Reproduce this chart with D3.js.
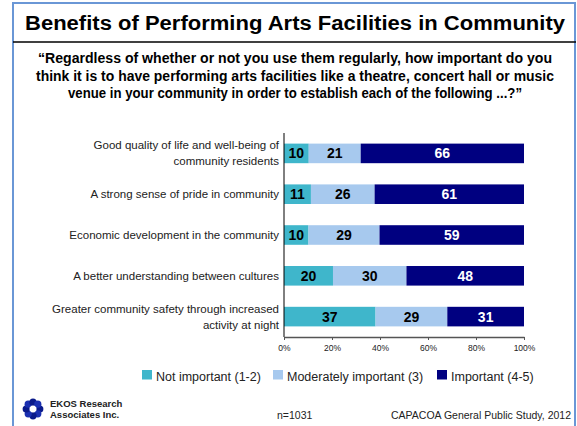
<!DOCTYPE html>
<html><head><meta charset="utf-8">
<script src="https://cdn.jsdelivr.net/npm/d3@7"></script>
<style>body{margin:0;background:#fff}svg{display:block;font-family:"Liberation Sans",Arial,sans-serif}</style>
</head><body>
<script>
const categories = [
  ["Good quality of life and well-being of","community residents"],
  ["A strong sense of pride in community"],
  ["Economic development in the community"],
  ["A better understanding between cultures"],
  ["Greater community safety through increased","activity at night"]
];
const seriesNames = ["Not important (1-2)","Moderately important (3)","Important (4-5)"];
const notImportant = [10,11,10,20,37];
const moderately = [21,26,29,30,29];
const important = [66,61,59,48,31];
const tickValues = [0,20,40,60,80,100];
const colors = ["#3FB6CB","#A7C9EE","#000080"];
const labelColors = ["#000","#000","#fff"];

const W=577,H=426;
const svg=d3.select("body").append("svg").attr("width",W).attr("height",H);
// frame
svg.append("rect").attr("x",13).attr("y",3).attr("width",562).attr("height",430)
  .attr("fill","#fff").attr("stroke","#6A97D6").attr("stroke-width",2);
svg.append("line").attr("x1",13).attr("x2",576).attr("y1",42).attr("y2",42).attr("stroke","#000").attr("stroke-width",1.5);
svg.append("text").attr("x",295).attr("y",30).attr("text-anchor","middle")
  .attr("font-size",20).attr("font-weight","bold").attr("textLength",540).attr("lengthAdjust","spacingAndGlyphs")
  .text("Benefits of Performing Arts Facilities in Community");
const sub=["\u201cRegardless of whether or not you use them regularly, how important do you",
"think it is to have performing arts facilities like a theatre, concert hall or music",
"venue in your community in order to establish each of the following ...?\u201d"];
const subW=[514,518,454];
sub.forEach((s,i)=>svg.append("text").attr("x",295).attr("y",63+i*17.5).attr("text-anchor","middle")
  .attr("font-size",14.5).attr("font-weight","bold").attr("textLength",subW[i]).attr("lengthAdjust","spacingAndGlyphs").text(s));

const x=d3.scaleLinear().domain([0,100]).range([284,524]);
const y=d3.scaleBand().domain(d3.range(categories.length)).range([133,337]).paddingInner(0.52).paddingOuter(0.26);

const data=categories.map((c,i)=>[notImportant[i],moderately[i],important[i]]);
const stack=d3.stack().keys([0,1,2]).offset(d3.stackOffsetExpand)(data);
stack.forEach((layer,k)=>{
  const g=svg.append("g");
  g.selectAll("rect").data(layer).join("rect")
    .attr("x",d=>x(d[0]*100)).attr("width",d=>x(d[1]*100)-x(d[0]*100))
    .attr("y",(d,i)=>y(i)).attr("height",y.bandwidth()).attr("fill",colors[k]);
  g.selectAll("text").data(layer).join("text")
    .attr("x",d=>(x(d[0]*100)+x(d[1]*100))/2).attr("y",(d,i)=>y(i)+y.bandwidth()/2+5)
    .attr("text-anchor","middle").attr("font-size",14).attr("font-weight","bold")
    .attr("fill",labelColors[k]).text((d,i)=>data[i][k]);
});
// category labels
categories.forEach((c,i)=>{
  const cy=y(i)+y.bandwidth()/2;
  c.forEach((line,j)=>svg.append("text").attr("x",279)
    .attr("y",cy+4+(j-(c.length-1)/2)*16).attr("text-anchor","end").attr("font-size",11.5)
    .attr("fill","#222").text(line));
});
// y axis line
svg.append("line").attr("x1",284).attr("x2",284).attr("y1",133).attr("y2",337).attr("stroke","#000").attr("stroke-width",1);
// x axis
const ax=svg.append("g").attr("transform","translate(0,337)")
  .call(d3.axisBottom(x).tickValues(tickValues).tickFormat(d=>d+"%").tickSize(3).tickSizeOuter(0));
ax.select(".domain").attr("stroke","#555").attr("stroke-width",1.5);
ax.selectAll(".tick line").attr("stroke","#555");
ax.selectAll(".tick text").attr("font-size",8.5).attr("font-family","Liberation Sans,Arial,sans-serif").attr("fill","#222").attr("dy","0.9em");

// legend
const legX=[142,273,437];
seriesNames.forEach((n,i)=>{
  svg.append("rect").attr("x",legX[i]).attr("y",370).attr("width",10).attr("height",9.5).attr("fill",colors[i]);
  svg.append("text").attr("x",legX[i]+14).attr("y",381).attr("font-size",12.5).attr("fill","#222").text(n);
});
// logo
const logo=svg.append("g").attr("transform","translate(33,409)");
d3.range(8).forEach(i=>{
  const a=i/8*2*Math.PI;
  logo.append("circle").attr("cx",6.8*Math.cos(a)).attr("cy",6.8*Math.sin(a)).attr("r",3.6)
    .attr("fill",i%2?"#1a2fb0":"#0a1a8a");
});
logo.append("circle").attr("r",3.3).attr("fill","#fff");
svg.append("text").attr("x",50).attr("y",407).attr("font-size",9.5).attr("font-weight","bold").attr("fill","#222").text("EKOS Research");
svg.append("text").attr("x",50).attr("y",417.5).attr("font-size",9.5).attr("font-weight","bold").attr("fill","#222").text("Associates Inc.");
svg.append("text").attr("x",277).attr("y",419).attr("font-size",10.5).attr("fill","#222").text("n=1031");
svg.append("text").attr("x",571).attr("y",419).attr("text-anchor","end").attr("font-size",10.5).attr("fill","#222").text("CAPACOA General Public Study, 2012");
</script>
</body></html>
